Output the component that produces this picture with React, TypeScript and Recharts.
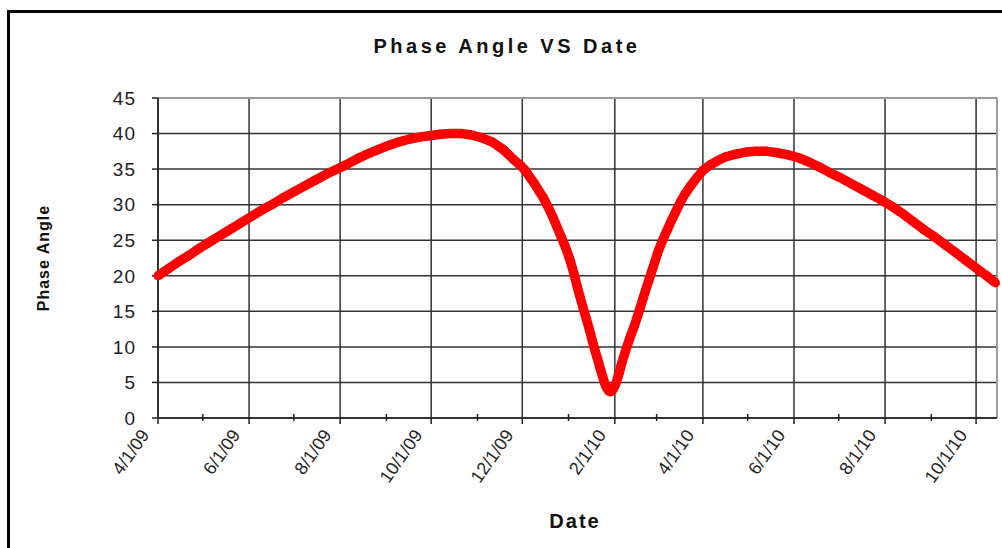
import { CartesianGrid, ReferenceLine, Scatter, ScatterChart, XAxis, YAxis, ZAxis } from 'recharts';

const FONT = '"Liberation Sans", Arial, sans-serif';

const xStart = '4/1/09';
const xEnd = '10/15/10';
const majorTicks = ['4/1/09', '6/1/09', '8/1/09', '10/1/09', '12/1/09', '2/1/10', '4/1/10', '6/1/10', '8/1/10', '10/1/10'];
const minorTicks = ['5/1/09', '7/1/09', '9/1/09', '11/1/09', '1/1/10', '3/1/10', '5/1/10', '7/1/10', '9/1/10'];
const yTicks = [0, 5, 10, 15, 20, 25, 30, 35, 40, 45];

// dates of the plotted points (denser around the minimum)
const dates = [
  '4/1/09', '4/8/09', '4/15/09', '4/22/09', '4/29/09', '5/6/09', '5/13/09', '5/20/09', '5/27/09',
  '6/3/09', '6/10/09', '6/17/09', '6/24/09', '7/1/09', '7/8/09', '7/15/09', '7/22/09', '7/29/09',
  '8/5/09', '8/12/09', '8/19/09', '8/26/09', '9/2/09', '9/9/09', '9/16/09', '9/23/09', '9/30/09',
  '10/7/09', '10/14/09', '10/21/09', '10/28/09', '11/4/09', '11/11/09', '11/18/09', '11/22/09',
  '11/26/09', '11/30/09', '12/3/09', '12/6/09', '12/9/09', '12/12/09', '12/15/09', '12/18/09',
  '12/21/09', '12/24/09', '12/27/09', '12/30/09', '1/2/10', '1/5/10', '1/7/10', '1/9/10', '1/11/10',
  '1/13/10', '1/15/10', '1/17/10', '1/19/10', '1/20/10', '1/21/10', '1/22/10', '1/23/10', '1/24/10',
  '1/25/10', '1/26/10', '1/27/10', '1/28/10', '1/29/10', '1/30/10', '1/31/10', '2/1/10', '2/2/10',
  '2/3/10', '2/4/10', '2/5/10', '2/6/10', '2/8/10', '2/10/10', '2/12/10', '2/14/10', '2/16/10',
  '2/18/10', '2/20/10', '2/22/10', '2/24/10', '2/26/10', '2/28/10', '3/2/10', '3/5/10', '3/8/10',
  '3/11/10', '3/14/10', '3/17/10', '3/20/10', '3/24/10', '3/28/10', '4/1/10', '4/6/10', '4/11/10',
  '4/16/10', '4/23/10', '4/30/10', '5/7/10', '5/14/10', '5/21/10', '5/28/10', '6/4/10', '6/11/10',
  '6/18/10', '6/25/10', '7/2/10', '7/9/10', '7/16/10', '7/23/10', '7/30/10', '8/6/10', '8/13/10',
  '8/20/10', '8/27/10', '9/3/10', '9/10/10', '9/17/10', '9/24/10', '10/1/10', '10/8/10', '10/14/10',
];

const phaseAngle = [
  20.0, 21.0, 22.0, 22.9, 23.9, 24.8, 25.7, 26.6, 27.5,
  28.4, 29.3, 30.1, 31.0, 31.8, 32.6, 33.4, 34.2, 34.9,
  35.6, 36.4, 37.1, 37.7, 38.3, 38.8, 39.2, 39.5, 39.7,
  39.9, 40.0, 40.0, 39.8, 39.4, 38.8, 37.8, 37.0,
  36.2, 35.5, 34.8, 33.9, 33.0, 32.0, 31.0, 29.8,
  28.5, 27.0, 25.5, 24.0, 22.2, 20.0, 18.3, 16.8, 15.3,
  13.9, 12.4, 10.8, 9.3, 8.6, 7.9, 7.1, 6.4, 5.7,
  5.0, 4.5, 4.1, 3.8, 3.7, 3.8, 4.1, 4.5, 5.0,
  5.7, 6.4, 7.2, 8.0, 9.3, 10.6, 11.8, 12.9, 14.2,
  15.5, 16.9, 18.2, 19.5, 20.8, 22.1, 23.4, 25.0, 26.4,
  27.8, 29.1, 30.4, 31.5, 32.7, 33.8, 34.8, 35.6, 36.2,
  36.7, 37.1, 37.4, 37.5, 37.5, 37.3, 37.0, 36.6, 36.0,
  35.3, 34.5, 33.8, 33.0, 32.2, 31.4, 30.6, 29.7, 28.7,
  27.6, 26.5, 25.5, 24.4, 23.3, 22.2, 21.1, 20.0, 19.0,
];

function toTime(s: string) {
  const [m, d, y] = s.split('/').map(Number);
  return Date.UTC(2000 + y, m - 1, d);
}

const data = dates.map((d, i) => ({ t: toTime(d), v: phaseAngle[i] }));
const majorTimes = majorTicks.map(toTime);
const allTicks = [...majorTicks, ...minorTicks].map(toTime).sort((a, b) => a - b);
const labelOf = new Map(majorTicks.map((s) => [toTime(s), s]));

function DateTick(props: any) {
  const { x, y, payload } = props;
  const label = labelOf.get(payload.value);
  if (!label) {
    return <line x1={x} x2={x} y1={y - 4} y2={y + 3} stroke="#222" strokeWidth={1.5} />;
  }
  return (
    <g>
      <line x1={x} x2={x} y1={y} y2={y + 6} stroke="#222" strokeWidth={1.5} />
      <text
        transform={`translate(${x - 8},${y + 17}) rotate(-55)`}
        textAnchor="end"
        fontSize={18}
        fontFamily={FONT}
        fill="#222"
      >
        {label}
      </text>
    </g>
  );
}

export default function App() {
  return (
    <div style={{ position: 'absolute', left: 0, top: 0, width: 1002, height: 548, background: '#fff', overflow: 'hidden' }}>
      <div
        style={{
          position: 'absolute',
          left: 7,
          top: 10,
          width: 1100,
          height: 600,
          borderLeft: '3px solid #000',
          borderTop: '3px solid #000',
        }}
      />
      <div style={{ position: 'absolute', left: 0, top: 0 }}>
        <ScatterChart width={1002} height={548} margin={{ top: 98, right: 5, bottom: 60, left: 108 }}>
          <CartesianGrid stroke="#333" strokeWidth={1.5} verticalValues={majorTimes} />
          <XAxis
            type="number"
            dataKey="t"
            domain={[toTime(xStart), toTime(xEnd)]}
            ticks={allTicks}
            interval={0}
            height={70}
            tickSize={0}
            tickMargin={0}
            tickLine={false}
            axisLine={{ stroke: '#222', strokeWidth: 1.5 }}
            tick={<DateTick />}
          />
          <YAxis
            type="number"
            dataKey="v"
            domain={[0, 45]}
            ticks={yTicks}
            interval={0}
            width={50}
            tickSize={6}
            tickMargin={16}
            axisLine={{ stroke: '#222', strokeWidth: 1.5 }}
            tickLine={{ stroke: '#222', strokeWidth: 1.5 }}
            tick={{ fontSize: 19, fill: '#222', fontFamily: FONT, letterSpacing: 1 }}
          />
          <ZAxis range={[80, 80]} />
          <ReferenceLine y={45} stroke="#9a9a9a" strokeWidth={2} />
          <ReferenceLine x={toTime(xEnd)} stroke="#9a9a9a" strokeWidth={2} />
          <Scatter
            data={data}
            fill="#ff0000"
            shape="circle"
            line={{ stroke: '#ff0000', strokeWidth: 9.5, strokeLinejoin: 'round' }}
            isAnimationActive={false}
          />
        </ScatterChart>
      </div>
      <svg width={1002} height={548} style={{ position: 'absolute', left: 0, top: 0, pointerEvents: 'none' }}>
        <text x={507} y={53} textAnchor="middle" fontFamily={FONT} fontWeight="bold" fontSize={20} letterSpacing={3.5} fill="#111">
          Phase Angle VS Date
        </text>
        <text x={575} y={528} textAnchor="middle" fontFamily={FONT} fontWeight="bold" fontSize={20} letterSpacing={2} fill="#111">
          Date
        </text>
        <text
          transform="translate(49,258) rotate(-90)"
          textAnchor="middle"
          fontFamily={FONT}
          fontWeight="bold"
          fontSize={16}
          letterSpacing={1}
          fill="#111"
        >
          Phase Angle
        </text>
      </svg>
    </div>
  );
}
